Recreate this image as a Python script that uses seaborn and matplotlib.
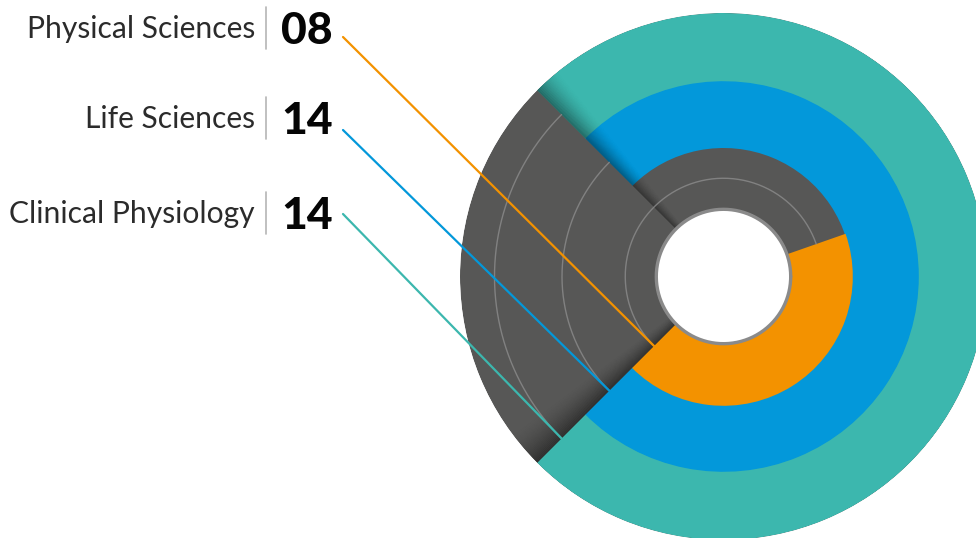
import numpy as np
import matplotlib
matplotlib.use("Agg")
import matplotlib.pyplot as plt
from matplotlib.patches import ConnectionPatch
import seaborn as sns

# ---- data ----
categories = ["Physical Sciences", "Life Sciences", "Clinical Physiology"]
values = [8, 14, 14]
value_labels = ["08", "14", "14"]
max_value = 14
colors = ["#f39200", "#0398da", "#3cb7ae"]

sns.set_theme(style="white")
plt.rcParams["font.family"] = ["Lato", "DejaVu Sans"]

W, H = 976, 538
fig = plt.figure(figsize=(W / 100, H / 100), dpi=100)

cx, cy, R = 723.5, 276.5, 263.5
ax = fig.add_axes([(cx - R) / W, (H - cy - R) / H, 2 * R / W, 2 * R / H], projection="polar")
ax.set_axis_off()
ax.set_ylim(0, R)

ring_edges = [68, 128.5, 194.5, 263.5]
start = np.deg2rad(225)
sweep = np.deg2rad(270)
track = "#575756"

# background track (one annulus, avoids seams)
ax.bar(0, ring_edges[-1] - ring_edges[0], width=2 * np.pi, bottom=ring_edges[0],
       color=track, edgecolor="none", linewidth=0)

mids = []
for i in reversed(range(len(values))):
    v = values[i]
    r0, r1 = ring_edges[i], ring_edges[i + 1]
    ang = v / max_value * sweep
    extra = 0.8 if i < len(values) - 1 else 0
    ax.bar(start, r1 - r0 + extra, width=ang, bottom=r0, align="edge", color=colors[i],
           edgecolor="none", linewidth=0)
for i, v in enumerate(values):
    r0, r1 = ring_edges[i], ring_edges[i + 1]
    ang = v / max_value * sweep
    gstart = start + ang
    gw = 2 * np.pi - ang
    mid = (r0 + r1) / 2
    mids.append(mid)
    th = np.linspace(gstart, gstart + gw, 200)
    ax.plot(th, np.full_like(th, mid), color="#8c8c8c", lw=1.0, alpha=0.8)

# fold shadows
n = 24
for edge, span_deg, amax in [(np.deg2rad(225), 8, 0.45), (np.deg2rad(135), 6, 0.42)]:
    span = np.deg2rad(span_deg)
    for k in range(n):
        a0 = edge - span + span * k / n
        alpha = amax * ((k + 1) / n) ** 1.6
        ax.bar(a0, ring_edges[-1] - ring_edges[0], width=span / n, bottom=ring_edges[0],
               align="edge", color="black", alpha=alpha, edgecolor="none", linewidth=0)

# hole
ax.bar(0, ring_edges[0], width=2 * np.pi, bottom=0, color="white", edgecolor="none")
th = np.linspace(0, 2 * np.pi, 400)
ax.plot(th, np.full_like(th, 67.2), color="#8a8a8a", lw=2.4)
ax.set_ylim(0, R)

# labels
rows_y = [28, 118, 213]
line_start_y = [37, 130, 214]
for i, cat in enumerate(categories):
    y = rows_y[i]
    fig.text(255 / W, 1 - (y + 1) / H, cat, ha="right", va="center", fontsize=21.6,
             fontweight="normal", color="#2b2b2b")
    fig.add_artist(plt.Line2D([266 / W, 266 / W], [1 - (y - 21) / H, 1 - (y + 21) / H],
                              color="#b5b5b5", lw=1.2))
    fig.text(281 / W, 1 - (y + 3) / H, value_labels[i], ha="left", va="center", fontsize=32,
             fontweight="black", color="#050505")
    con = ConnectionPatch(xyA=(343, H - line_start_y[i]), coordsA="figure pixels",
                          xyB=(start, mids[i]), coordsB=ax.transData,
                          color=colors[i], lw=1.6)
    fig.add_artist(con)

fig.savefig("out.png", dpi=100)
